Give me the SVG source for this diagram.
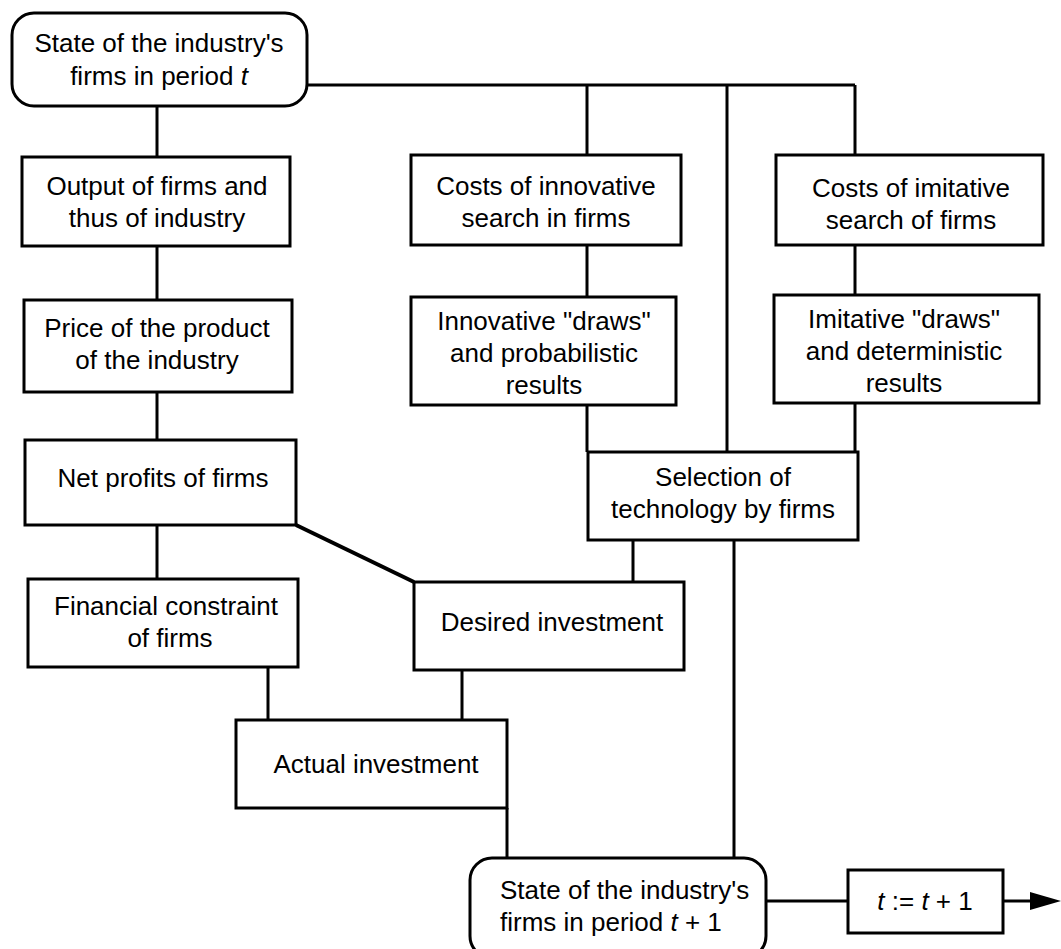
<svg xmlns="http://www.w3.org/2000/svg" width="1061" height="949" viewBox="0 0 1061 949">
<defs>
<style>
.box{fill:#fff;stroke:#000;stroke-width:3}
.ln{fill:none;stroke:#000;stroke-width:3}
text{font-family:"Liberation Sans",Arial,sans-serif;font-size:26px;fill:#000}
.c{text-anchor:middle}
.i{font-style:italic}
</style>
</defs>
<rect width="1061" height="949" fill="#fff"/>
<g id="connectors">
<path class="ln" d="M307,85 H855 M587,85 V155 M727,85 V452 M855,85 V155"/>
<path class="ln" d="M157,106 V157 M157,246 V300 M157,392 V440 M157,525 V579"/>
<path class="ln" d="M587,245 V297 M587,405 V452 M855,245 V295 M855,403 V452"/>
<path class="ln" d="M296,525 L414,582" style="stroke-width:4"/>
<path class="ln" d="M633,540 V582 M734,540 V858"/>
<path class="ln" d="M268,667 V720 M462,670 V720"/>
<path class="ln" d="M507,808 V858"/>
<path class="ln" d="M766,901 H848"/>
<path class="ln" d="M1003,901 H1032"/>
<path d="M1030,892 L1061,901 L1030,910 Z" fill="#000"/>
</g>
<g id="n-state-t">
<rect class="box" x="12" y="13" width="295" height="93" rx="22"/>
<text class="c" x="159" y="52">State of the industry's</text>
<text class="c" x="159" y="85">firms in period <tspan class="i">t</tspan></text>
</g>
<g id="n-output">
<rect class="box" x="22" y="157" width="268" height="89"/>
<text class="c" x="157" y="195">Output of firms and</text>
<text class="c" x="157" y="227">thus of industry</text>
</g>
<g id="n-price">
<rect class="box" x="24" y="300" width="268" height="92"/>
<text class="c" x="157" y="337">Price of the product</text>
<text class="c" x="157" y="369">of the industry</text>
</g>
<g id="n-profits">
<rect class="box" x="25" y="440" width="271" height="85"/>
<text class="c" x="163" y="487">Net profits of firms</text>
</g>
<g id="n-financial">
<rect class="box" x="28" y="579" width="270" height="88"/>
<text class="c" x="166" y="615">Financial constraint</text>
<text class="c" x="170" y="647">of firms</text>
</g>
<g id="n-desired">
<rect class="box" x="414" y="582" width="270" height="88"/>
<text class="c" x="552" y="631">Desired investment</text>
</g>
<g id="n-actual">
<rect class="box" x="236" y="720" width="271" height="88"/>
<text class="c" x="376" y="773">Actual investment</text>
</g>
<g id="n-costs-innov">
<rect class="box" x="411" y="155" width="270" height="90"/>
<text class="c" x="546" y="195">Costs of innovative</text>
<text class="c" x="546" y="227">search in firms</text>
</g>
<g id="n-innov-draws">
<rect class="box" x="411" y="297" width="265" height="108"/>
<text class="c" x="544" y="330">Innovative "draws"</text>
<text class="c" x="544" y="362">and probabilistic</text>
<text class="c" x="544" y="394">results</text>
</g>
<g id="n-costs-imit">
<rect class="box" x="776" y="155" width="267" height="90"/>
<text class="c" x="911" y="197">Costs of imitative</text>
<text class="c" x="911" y="229">search of firms</text>
</g>
<g id="n-imit-draws">
<rect class="box" x="774" y="295" width="265" height="108"/>
<text class="c" x="904" y="328">Imitative "draws"</text>
<text class="c" x="904" y="360">and deterministic</text>
<text class="c" x="904" y="392">results</text>
</g>
<g id="n-selection">
<rect class="box" x="588" y="452" width="270" height="88"/>
<text class="c" x="723" y="486">Selection of</text>
<text class="c" x="723" y="518">technology by firms</text>
</g>
<g id="n-state-t1">
<rect class="box" x="470" y="858" width="296" height="100" rx="22"/>
<text x="500" y="899">State of the industry's</text>
<text x="500" y="931">firms in period <tspan class="i">t</tspan>  + 1</text>
</g>
<g id="n-tinc">
<rect class="box" x="848" y="870" width="155" height="63"/>
<text class="c" x="925" y="910"><tspan class="i">t</tspan> := <tspan class="i">t</tspan> + 1</text>
</g>
</svg>
